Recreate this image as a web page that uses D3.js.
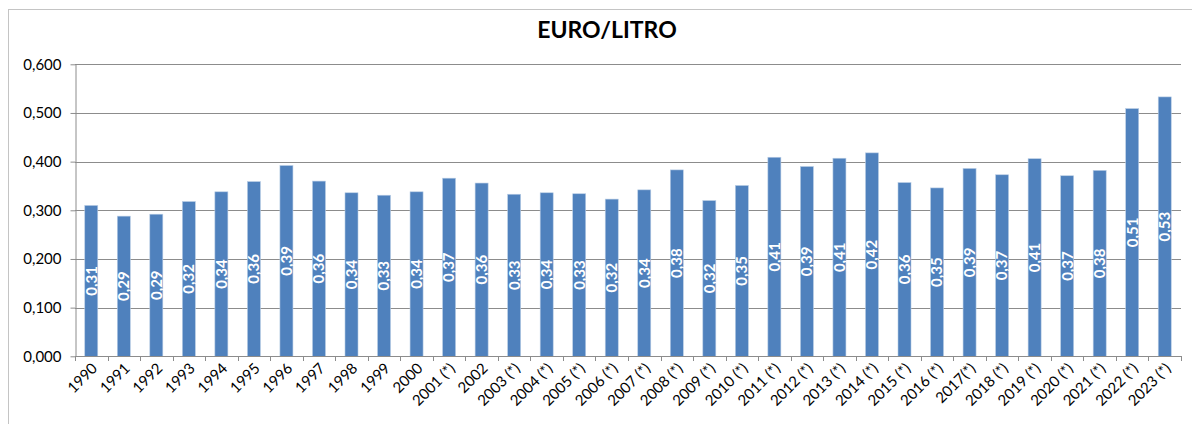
<!DOCTYPE html>
<html>
<head>
<meta charset="utf-8">
<script src="https://cdn.jsdelivr.net/npm/d3@7"></script>
<style>
  html, body { margin: 0; padding: 0; background: #fff; }
  svg { display: block; font-family: Lato, "Open Sans", sans-serif; }
  .tick-y { font-size: 15px; fill: #000; }
  .tick-x { font-size: 15px; fill: #000; }
  .bar-label { font-size: 15px; font-weight: bold; fill: #fff; }
  .title { font-size: 23px; font-weight: bold; fill: #000; }
</style>
</head>
<body>
<svg id="chart" width="1192" height="424"></svg>
<script>
"use strict";

// ===== Data =====
const years = [
  "1990", "1991", "1992", "1993", "1994", "1995", "1996", "1997", "1998", "1999",
  "2000", "2001 (*)", "2002", "2003 (*)", "2004 (*)", "2005 (*)", "2006 (*)", "2007 (*)",
  "2008 (*)", "2009 (*)", "2010 (*)", "2011 (*)", "2012 (*)", "2013 (*)", "2014 (*)",
  "2015 (*)", "2016 (*)", "2017(*)", "2018 (*)", "2019 (*)", "2020 (*)", "2021 (*)",
  "2022 (*)", "2023 (*)"
];
const euroPerLitre = [
  0.310, 0.288, 0.292, 0.318, 0.338, 0.359, 0.392, 0.360, 0.336, 0.331,
  0.338, 0.366, 0.356, 0.333, 0.336, 0.334, 0.323, 0.342,
  0.383, 0.320, 0.351, 0.409, 0.390, 0.407, 0.418,
  0.357, 0.346, 0.386, 0.373, 0.406, 0.371, 0.382,
  0.509, 0.533
];
const yTicks = [0, 0.1, 0.2, 0.3, 0.4, 0.5, 0.6];
const chartTitle = "EURO/LITRO";

// ===== Setup =====
const svg = d3.select("#chart");
const locale = d3.formatLocale({ decimal: ",", thousands: ".", grouping: [3], currency: ["", "€"] });
const fmtAxis = locale.format(".3f");
const fmtLabel = locale.format(".2f");

const plotLeft = 75, plotRight = 1181, plotTop = 64.3, plotBottom = 356.3;

const x = d3.scaleBand()
  .domain(years)
  .range([plotLeft, plotRight])
  .paddingInner(0.6)
  .paddingOuter(0.3);

const y = d3.scaleLinear()
  .domain([0, 0.6])
  .range([plotBottom, plotTop]);

const data = years.map((c, i) => ({ cat: c, v: euroPerLitre[i] }));

// Outer chart border
svg.append("rect")
  .attr("x", 8.5).attr("y", 9.5)
  .attr("width", 1200).attr("height", 430)
  .attr("fill", "none")
  .attr("stroke", "#c4c4c4");

// Title
svg.append("text")
  .attr("class", "title")
  .attr("x", 607).attr("y", 38)
  .attr("text-anchor", "middle")
  .text(chartTitle);

// Gridlines
svg.append("g")
  .selectAll("line")
  .data(yTicks.filter(t => t > 0))
  .join("line")
  .attr("x1", plotLeft).attr("x2", plotRight)
  .attr("y1", d => Math.round(y(d)) + 0.5)
  .attr("y2", d => Math.round(y(d)) + 0.5)
  .attr("stroke", "#8c8c8c");

// Y axis
const yAxis = svg.append("g")
  .attr("transform", `translate(${plotLeft + 0.5},0)`)
  .call(d3.axisLeft(y).tickValues(yTicks).tickFormat(fmtAxis).tickSize(5).tickSizeOuter(0));
yAxis.attr("font-family", null).attr("font-size", null);
yAxis.select(".domain").attr("stroke", "#8c8c8c");
yAxis.selectAll(".tick line").attr("stroke", "#8c8c8c");
yAxis.selectAll(".tick text")
  .attr("class", "tick-y")
  .attr("x", -14);

// Bars
svg.append("g")
  .selectAll("rect")
  .data(data)
  .join("rect")
  .attr("x", d => x(d.cat))
  .attr("y", d => y(d.v))
  .attr("width", x.bandwidth())
  .attr("height", d => y(0) - y(d.v))
  .attr("fill", "#4f81bd")
  .attr("stroke", "#b9cde5")
  .attr("stroke-width", 0.6);

// Bar value labels (rotated, centred in the bar)
svg.append("g")
  .selectAll("text")
  .data(data)
  .join("text")
  .attr("class", "bar-label")
  .attr("transform", d => {
    const cx = x(d.cat) + x.bandwidth() / 2;
    const cy = (y(d.v) + y(0)) / 2;
    return `translate(${cx},${cy}) rotate(-90)`;
  })
  .attr("text-anchor", "middle")
  .attr("dy", "0.36em")
  .text(d => fmtLabel(d.v));

// X axis line + tick marks at category boundaries
const step = x.step();
const bounds = years.map(c => x(c) + x.bandwidth() / 2 - step / 2);
bounds.push(x(years[years.length - 1]) + x.bandwidth() / 2 + step / 2);

const xAxis = svg.append("g");
xAxis.append("line")
  .attr("x1", plotLeft).attr("x2", plotRight)
  .attr("y1", Math.round(plotBottom) + 0.5).attr("y2", Math.round(plotBottom) + 0.5)
  .attr("stroke", "#8c8c8c");
xAxis.selectAll("line.tk")
  .data(bounds)
  .join("line")
  .attr("class", "tk")
  .attr("x1", d => Math.round(d) + 0.5).attr("x2", d => Math.round(d) + 0.5)
  .attr("y1", Math.round(plotBottom)).attr("y2", Math.round(plotBottom) + 5)
  .attr("stroke", "#8c8c8c");

// Category labels, rotated 45°
xAxis.selectAll("text")
  .data(years)
  .join("text")
  .attr("class", "tick-x")
  .attr("text-anchor", "end")
  .attr("transform", c => `translate(${x(c) + x.bandwidth() / 2 + 7},${plotBottom + 13}) rotate(-45)`)
  .text(c => c);
</script>
</body>
</html>
